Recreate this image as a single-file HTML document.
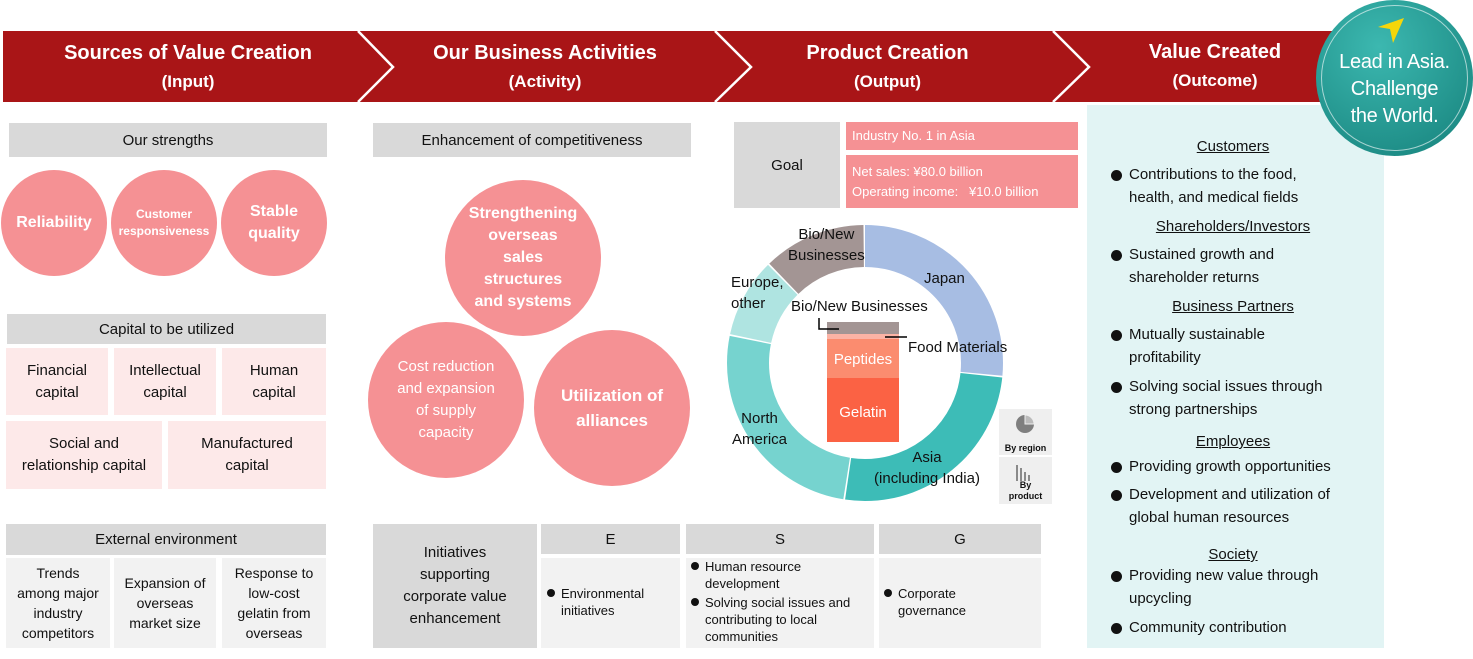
<!DOCTYPE html>
<html><head><meta charset="utf-8"><style>
*{margin:0;padding:0;box-sizing:border-box}
body{width:1473px;height:659px;background:#fff;position:relative;overflow:hidden;font-family:"Liberation Sans",sans-serif;color:#111}
.a{position:absolute}
.c{display:flex;align-items:center;justify-content:center;text-align:center}
.g{background:#d9d9d9}
.pk{background:#fde9e9}
.lg{background:#f2f2f2}
.circ{position:absolute;border-radius:50%;background:#f59194;color:#fff;display:flex;align-items:center;justify-content:center;text-align:center;font-weight:bold}
.hd{color:#fff;font-weight:bold;text-align:center;line-height:28px}
.ul{text-decoration:underline}
.li{position:absolute;font-size:15px;line-height:23px;padding-left:20px}
.li:before{content:"";position:absolute;left:2px;top:7px;width:11px;height:11px;border-radius:50%;background:#111}
.sl{position:absolute;font-size:13px;line-height:17px;padding-left:16px}
.sl:before{content:"";position:absolute;left:2px;top:4px;width:8px;height:8px;border-radius:50%;background:#111}
</style></head><body>

<div class="a" style="left:3px;top:31px;width:1340px;height:71px;background:#a91517"></div>
<svg class="a" style="left:0;top:0" width="1473" height="110">
<polyline points="358,31 393,67 358,102" fill="none" stroke="#fff" stroke-width="2.5"/>
<polyline points="715,31 751,67 715,102" fill="none" stroke="#fff" stroke-width="2.5"/>
<polyline points="1053,31 1089,67 1053,102" fill="none" stroke="#fff" stroke-width="2.5"/>
</svg>
<div class="a hd" style="left:3px;top:39px;width:370px;font-size:20px">Sources of Value Creation<br><span style="font-size:17px">(Input)</span></div>
<div class="a hd" style="left:360px;top:39px;width:370px;font-size:20px">Our Business Activities<br><span style="font-size:17px">(Activity)</span></div>
<div class="a hd" style="left:715px;top:39px;width:345px;font-size:20px">Product Creation<br><span style="font-size:17px">(Output)</span></div>
<div class="a hd" style="left:1070px;top:38px;width:290px;font-size:20px">Value Created<br><span style="font-size:17px">(Outcome)</span></div>

<div class="a" style="left:1087px;top:105px;width:297px;height:543px;background:#e2f4f4"></div>

<div class="a c" style="left:1316px;top:0;width:157px;height:156px;border-radius:50%;background:radial-gradient(circle at 40% 30%,#3cb8b0,#15807a);">
<div style="position:absolute;left:5px;top:5px;right:5px;bottom:5px;border-radius:50%;border:1.5px solid rgba(255,255,255,.6)"></div>
<svg class="a" style="left:58px;top:16px" width="40" height="30"><polygon points="30,2 4,11 16,13 19,27" fill="#f5d60a"/></svg>
<div style="color:#fff;font-size:20px;line-height:27px;margin-top:22px;letter-spacing:-0.3px">Lead in Asia.<br>Challenge<br>the World.</div>
</div>

<div class="a g c" style="left:9px;top:123px;width:318px;height:34px;font-size:15px">Our strengths</div>
<div class="circ" style="left:1px;top:170px;width:106px;height:106px;font-size:16px">Reliability</div>
<div class="circ" style="left:111px;top:170px;width:106px;height:106px;font-size:12px;line-height:17px">Customer<br>responsiveness</div>
<div class="circ" style="left:221px;top:170px;width:106px;height:106px;font-size:16px;line-height:22px">Stable<br>quality</div>

<div class="a g c" style="left:7px;top:314px;width:319px;height:30px;font-size:15px">Capital to be utilized</div>
<div class="a pk c" style="left:6px;top:348px;width:102px;height:67px;font-size:15px;line-height:22px">Financial<br>capital</div>
<div class="a pk c" style="left:114px;top:348px;width:102px;height:67px;font-size:15px;line-height:22px">Intellectual<br>capital</div>
<div class="a pk c" style="left:222px;top:348px;width:104px;height:67px;font-size:15px;line-height:22px">Human<br>capital</div>
<div class="a pk c" style="left:6px;top:421px;width:156px;height:68px;font-size:15px;line-height:22px">Social and<br>relationship capital</div>
<div class="a pk c" style="left:168px;top:421px;width:158px;height:68px;font-size:15px;line-height:22px">Manufactured<br>capital</div>

<div class="a g c" style="left:6px;top:524px;width:320px;height:31px;font-size:15px">External environment</div>
<div class="a lg c" style="left:6px;top:558px;width:104px;height:90px;font-size:14px;line-height:20px">Trends<br>among major<br>industry<br>competitors</div>
<div class="a lg c" style="left:114px;top:558px;width:102px;height:90px;font-size:14px;line-height:20px">Expansion of<br>overseas<br>market size</div>
<div class="a lg c" style="left:222px;top:558px;width:104px;height:90px;font-size:14px;line-height:20px">Response to<br>low-cost<br>gelatin from<br>overseas</div>

<div class="a g c" style="left:373px;top:123px;width:318px;height:34px;font-size:15px">Enhancement of competitiveness</div>
<div class="circ" style="left:445px;top:180px;width:156px;height:156px;font-size:16px;line-height:22px">Strengthening<br>overseas<br>sales<br>structures<br>and systems</div>
<div class="circ" style="left:368px;top:322px;width:156px;height:156px;font-size:15px;line-height:22px;font-weight:normal">Cost reduction<br>and expansion<br>of supply<br>capacity</div>
<div class="circ" style="left:534px;top:330px;width:156px;height:156px;font-size:17px;line-height:25px">Utilization of<br>alliances</div>

<div class="a g c" style="left:373px;top:524px;width:164px;height:124px;font-size:15px;line-height:22px">Initiatives<br>supporting<br>corporate value<br>enhancement</div>
<div class="a g c" style="left:541px;top:524px;width:139px;height:30px;font-size:15px">E</div>
<div class="a g c" style="left:686px;top:524px;width:188px;height:30px;font-size:15px">S</div>
<div class="a g c" style="left:879px;top:524px;width:162px;height:30px;font-size:15px">G</div>
<div class="a lg" style="left:541px;top:558px;width:139px;height:90px"></div>
<div class="a lg" style="left:686px;top:558px;width:188px;height:90px"></div>
<div class="a lg" style="left:879px;top:558px;width:162px;height:90px"></div>
<div class="sl" style="left:545px;top:585px">Environmental<br>initiatives</div>
<div class="sl" style="left:689px;top:558px;width:186px">Human resource<br>development</div>
<div class="sl" style="left:689px;top:594px;width:190px">Solving social issues and<br>contributing to local<br>communities</div>
<div class="sl" style="left:882px;top:585px">Corporate<br>governance</div>

<div class="a g c" style="left:734px;top:122px;width:106px;height:86px;font-size:15px">Goal</div>
<div class="a" style="left:846px;top:122px;width:232px;height:28px;background:#f59194;color:#fff;font-size:13px;line-height:28px;padding-left:6px">Industry No. 1 in Asia</div>
<div class="a" style="left:846px;top:155px;width:232px;height:53px;background:#f59194;color:#fff;font-size:13px;line-height:20px;padding:7px 0 0 6px;white-space:nowrap;overflow:hidden">Net sales: ¥80.0 billion<br>Operating income:&nbsp;&nbsp; ¥10.0 billion</div>

<svg class="a" style="left:0;top:0" width="1473" height="659">
<g transform="translate(865,363) rotate(-90)" fill="none" stroke-width="42">
<circle r="117" stroke="#a7bde3" stroke-dasharray="194.5 1000" stroke-dashoffset="0"/>
<circle r="117" stroke="#3dbcb7" stroke-dasharray="188.4 1000" stroke-dashoffset="-196"/>
<circle r="117" stroke="#76d3cf" stroke-dasharray="188.4 1000" stroke-dashoffset="-385.9"/>
<circle r="117" stroke="#afe4e1" stroke-dasharray="67.9 1000" stroke-dashoffset="-575.8"/>
<circle r="117" stroke="#a39594" stroke-dasharray="88.3 1000" stroke-dashoffset="-645.2"/>
</g>
<rect x="827" y="322" width="72" height="12" fill="#a39594"/>
<rect x="827" y="334" width="72" height="5" fill="#fbb3a5"/>
<rect x="827" y="339" width="72" height="39" fill="#fb8c6f"/>
<rect x="827" y="378" width="72" height="64" fill="#fb6244"/>
<polyline points="819,318 819,329 839,329" fill="none" stroke="#000" stroke-width="1.5"/>
<line x1="885" y1="337" x2="907" y2="337" stroke="#000" stroke-width="1.5"/>
<rect x="999" y="409" width="53" height="46" fill="#efefef"/>
<rect x="999" y="457" width="53" height="47" fill="#efefef"/>
<circle cx="1025" cy="424" r="9" fill="#7f7f7f"/>
<path d="M1025,424 L1025,415 A9,9 0 0 1 1034,424 Z" fill="#bbb" stroke="#efefef" stroke-width="1"/>
<g fill="#8a8a8a"><rect x="1016" y="465" width="2" height="16"/><rect x="1020" y="468" width="2" height="13"/><rect x="1024" y="472" width="2" height="9"/><rect x="1028" y="475" width="2" height="6"/></g>
</svg>
<div class="a" style="left:788px;top:224px;font-size:15px;line-height:21px;text-align:center">Bio/New<br>Businesses</div>
<div class="a" style="left:924px;top:270px;font-size:15px">Japan</div>
<div class="a" style="left:731px;top:272px;font-size:15px;line-height:21px">Europe,<br>other</div>
<div class="a" style="left:791px;top:298px;font-size:15px">Bio/New Businesses</div>
<div class="a" style="left:908px;top:339px;font-size:15px">Food Materials</div>
<div class="a" style="left:827px;top:351px;width:72px;text-align:center;font-size:15px;color:#fff">Peptides</div>
<div class="a" style="left:827px;top:404px;width:72px;text-align:center;font-size:15px;color:#fff">Gelatin</div>
<div class="a" style="left:732px;top:408px;font-size:15px;line-height:21px;text-align:center">North<br>America</div>
<div class="a" style="left:862px;top:447px;width:130px;font-size:15px;line-height:21px;text-align:center">Asia<br>(including India)</div>
<div class="a" style="left:999px;top:443px;width:53px;text-align:center;font-size:9px;font-weight:bold">By region</div>
<div class="a" style="left:999px;top:480px;width:53px;text-align:center;font-size:9px;font-weight:bold;line-height:11px">By<br>product</div>

<div class="a ul" style="left:1087px;top:138px;width:292px;text-align:center;font-size:15px">Customers</div>
<div class="li" style="left:1109px;top:163px">Contributions to the food,<br>health, and medical fields</div>
<div class="a ul" style="left:1087px;top:218px;width:292px;text-align:center;font-size:15px">Shareholders/Investors</div>
<div class="li" style="left:1109px;top:243px">Sustained growth and<br>shareholder returns</div>
<div class="a ul" style="left:1087px;top:298px;width:292px;text-align:center;font-size:15px">Business Partners</div>
<div class="li" style="left:1109px;top:323px">Mutually sustainable<br>profitability</div>
<div class="li" style="left:1109px;top:375px">Solving social issues through<br>strong partnerships</div>
<div class="a ul" style="left:1087px;top:433px;width:292px;text-align:center;font-size:15px">Employees</div>
<div class="li" style="left:1109px;top:455px">Providing growth opportunities</div>
<div class="li" style="left:1109px;top:483px">Development and utilization of<br>global human resources</div>
<div class="a ul" style="left:1087px;top:546px;width:292px;text-align:center;font-size:15px">Society</div>
<div class="li" style="left:1109px;top:564px">Providing new value through<br>upcycling</div>
<div class="li" style="left:1109px;top:616px">Community contribution</div>
</body></html>
